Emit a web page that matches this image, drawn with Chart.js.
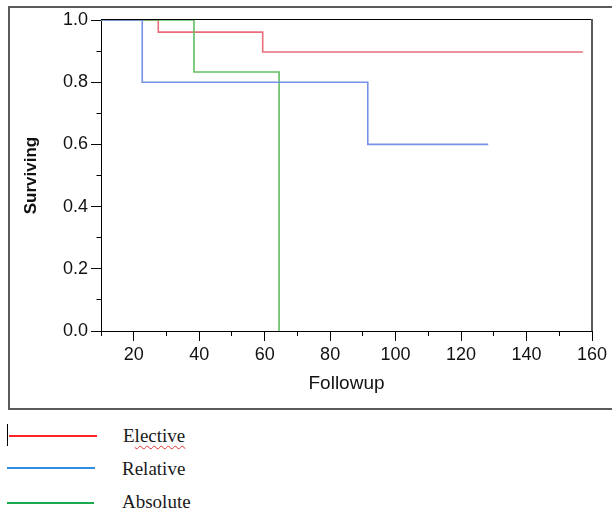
<!DOCTYPE html>
<html>
<head>
<meta charset="utf-8">
<script src="https://cdn.jsdelivr.net/npm/chart.js@4"></script>
<style>
  body { margin: 0; width: 612px; height: 511px; overflow: hidden; background: #fff; position: relative; }
  #frame { position: absolute; left: 8px; top: 6px; width: 700px; height: 400px; border: 2px solid #5a5a5a; }
  #chart { position: absolute; left: 0; top: 0; }
  .key { position: absolute; height: 2px; }
  .lbl { position: absolute; font-family: "Liberation Serif", "Times New Roman", serif; font-size: 19px; color: #1a1a1a; white-space: nowrap; line-height: normal; }
  .typo { text-decoration: underline wavy #e03030; text-decoration-thickness: 1px; text-underline-offset: 3px; }
  #cursor { position: absolute; left: 7px; top: 424px; width: 1px; height: 22px; background: #000; }
</style>
</head>
<body>
<div id="frame"></div>
<canvas id="chart" width="612" height="409"></canvas>

<div id="cursor"></div>
<div class="key" style="left:9px;top:435px;width:88px;background:#ff2424;"></div>
<div class="key" style="left:7px;top:467px;width:88px;background:#2f8ee0;"></div>
<div class="key" style="left:7px;top:502px;width:87px;background:#1caa4e;"></div>
<div class="lbl" style="left:123px;top:425px;">E<span class="typo">lective</span></div>
<div class="lbl" style="left:122px;top:458px;">Relative</div>
<div class="lbl" style="left:122px;top:491px;">Absolute</div>

<script>
// Kaplan-Meier steps: time of each event and survival after it
const electiveTime = [10, 27.5, 59.4, 157.2];
const electiveSurv = [1.0, 0.961, 0.897, 0.897];
const relativeTime = [10, 22.6, 91.5, 128.3];
const relativeSurv = [1.0, 0.8, 0.6, 0.6];
const absoluteTime = [10, 38.4, 64.4];
const absoluteSurv = [1.0, 0.833, 0.0];

const xTicks = [20, 40, 60, 80, 100, 120, 140, 160];
const yTicks = [0.0, 0.2, 0.4, 0.6, 0.8, 1.0];

function pts(t, s) {
  return t.map((v, i) => ({ x: v, y: s[i] }));
}

Chart.defaults.font.family = '"Liberation Sans", Arial, sans-serif';
Chart.defaults.color = '#111';

// top and right edges of the plot box, drawn under the curves
const boxEdges = {
  id: 'boxEdges',
  beforeDatasetsDraw(chart) {
    const a = chart.chartArea;
    const c = chart.ctx;
    c.save();
    c.strokeStyle = '#000';
    c.lineWidth = 1;
    c.beginPath();
    c.moveTo(a.left, a.top - 0.5);
    c.lineTo(a.right, a.top - 0.5);
    c.stroke();
    c.strokeStyle = '#5a5a5a';
    c.lineWidth = 2;
    c.beginPath();
    c.moveTo(a.right, a.top - 1);
    c.lineTo(a.right, a.bottom);
    c.stroke();
    c.restore();
  }
};

const isMajorX = v => xTicks.includes(Math.round(v));
const isMajorY = v => yTicks.some(t => Math.abs(t - v) < 1e-6);

new Chart(document.getElementById('chart'), {
  type: 'line',
  data: {
    datasets: [
      { label: 'Elective', data: pts(electiveTime, electiveSurv), borderColor: 'rgb(232,110,122)', order: 3 },
      { label: 'Relative', data: pts(relativeTime, relativeSurv), borderColor: 'rgb(118,146,232)', order: 1 },
      { label: 'Absolute', data: pts(absoluteTime, absoluteSurv), borderColor: 'rgb(96,190,96)', order: 2 }
    ]
  },
  options: {
    responsive: false,
    animation: false,
    layout: { padding: { top: 20, right: 20, left: 0, bottom: 0 } },
    elements: {
      line: { stepped: 'before', borderWidth: 1.6, fill: false },
      point: { radius: 0 }
    },
    plugins: { legend: { display: false }, tooltip: { enabled: false } },
    scales: {
      x: {
        type: 'linear',
        min: 10,
        max: 160,
        afterFit(s) { s.height = 78; },
        border: { color: '#000', width: 1 },
        grid: {
          drawOnChartArea: false,
          tickLength: 10,
          tickColor: '#000',
          tickBorderDash: ctx => (ctx.tick && !isMajorX(ctx.tick.value)) ? [4, 100] : []
        },
        ticks: {
          stepSize: 10,
          autoSkip: false,
          maxRotation: 0,
          padding: 3,
          font: { size: 18 },
          callback: v => isMajorX(v) ? String(Math.round(v)) : ''
        },
        title: {
          display: true,
          text: 'Followup',
          font: { size: 19 },
          padding: { top: 0, bottom: 14 }
        }
      },
      y: {
        min: 0,
        max: 1,
        afterFit(s) { s.width = 101; },
        border: { color: '#000', width: 1 },
        grid: {
          drawOnChartArea: false,
          tickLength: 10,
          tickColor: '#000',
          tickBorderDash: ctx => (ctx.tick && !isMajorY(ctx.tick.value)) ? [0, 5.5, 5, 100] : []
        },
        ticks: {
          stepSize: 0.1,
          autoSkip: false,
          padding: 3,
          font: { size: 18 },
          callback: v => isMajorY(v) ? v.toFixed(1) : ''
        },
        title: {
          display: true,
          text: 'Surviving',
          font: { size: 17, weight: 'bold' },
          padding: { top: 21, bottom: 0 }
        }
      }
    }
  },
  plugins: [boxEdges]
});
</script>
</body>
</html>
